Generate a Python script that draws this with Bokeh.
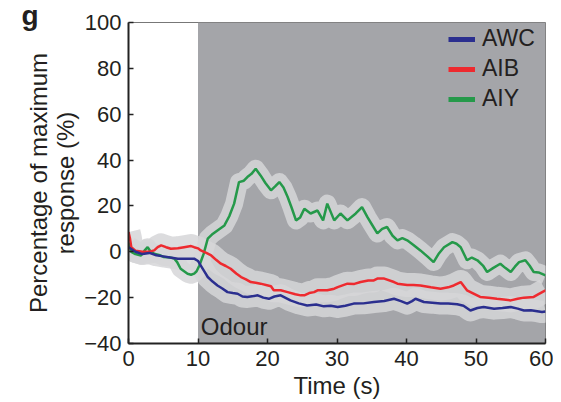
from bokeh.plotting import figure
from bokeh.models import Range1d, BoxAnnotation, Label, Legend, LegendItem, FixedTicker
from bokeh.embed import file_html
from bokeh.resources import INLINE

# ---------------- data ----------------
odour_start = 10
odour_end = 60

awc_t = [0, 1, 2, 3, 4, 5, 6, 7.1, 8, 9,
         9.45, 10.0, 10.4, 11.0, 11.4, 12.1, 12.8, 13.5, 14.25, 15.0,
         15.7, 16.4, 17.1, 18.0, 18.6, 19.4, 20.2, 21.0, 21.9, 23.3,
         24.5, 25.7, 27.0, 28.1, 29.1, 30.1, 31.2, 32.4, 33.8, 35.3,
         36.8, 38.2, 39.2, 40.1, 40.8, 41.3, 42.5, 43.7, 44.9, 46.0,
         47.3, 48.2, 49.2, 50.2, 51.1, 52.6, 53.8, 55.0, 56.0, 56.9,
         57.9, 58.8, 59.5, 60]
awc_v = [2, 0, -1, -0.5, -1.5, -2, -2.5, -3, -3, -3,
         -3, -4, -6, -9, -11, -13, -14.7, -16, -17.6, -18,
         -18.3, -19.5, -19.7, -19.3, -19, -20, -20.5, -19.5, -19, -21.2,
         -22.5, -23.4, -23, -23.8, -23.5, -24.1, -23.5, -22.6, -22.5, -21.9,
         -21.5, -20.5, -21.5, -22.6, -21.5, -20.5, -21.9, -22.2, -22.6, -22.6,
         -22.9, -23.5, -25.6, -24.5, -24.1, -24.8, -24.5, -24.1, -24.8, -25.6,
         -25.5, -25.9, -26.3, -26]

aib_t = [0, 0.2, 0.4, 1.0, 2.0, 3.0, 3.7, 4.2, 4.7, 5.4,
         6.1, 7.1, 8.0, 9.0, 9.45, 10.0, 10.4, 11.2, 11.9, 12.6,
         13.3, 14.0, 14.7, 15.5, 16.2, 16.9, 17.6, 18.3, 19.0, 20.5,
         20.9, 21.9, 22.9, 24.0, 24.8, 25.3, 26.0, 26.7, 27.2, 28.6,
         29.6, 30.1, 31.5, 32.5, 33.4, 34.5, 35.3, 35.8, 36.8, 38.2,
         38.7, 40.1, 41.0, 42.0, 43.5, 44.9, 46.0, 46.8, 47.8, 48.7,
         49.5, 50.6, 51.8, 53.0, 54.0, 55.0, 56.0, 56.9, 58.3, 59.0,
         60.0]
aib_v = [8.6, 6, 2, 0.5, 0, 0, 0.6, 2, 2.8, 2,
         1.3, 1.5, 2, 2.5, 2, 1.5, 0.6, -0.5, -1.6, -3.5,
         -5.2, -6.2, -7.4, -9.5, -11, -12, -13.2, -13.5, -13.9, -15,
         -16.8, -16.8, -17.6, -18.5, -19, -19, -18, -17.6, -16.8, -16.8,
         -16.1, -15.4, -13.9, -14, -13.2, -12.5, -12.5, -11.7, -11.7, -13.2,
         -13.9, -14.5, -14.5, -14.7, -15.5, -16.1, -15.5, -14.7, -13.2, -16.8,
         -18, -19.7, -20, -20.5, -20.8, -21.2, -20.5, -20, -19.7, -18.5,
         -16.8]

aiy_t = [0, 0.4, 1.0, 1.8, 2.3, 2.75, 3.2, 3.7, 4.5, 5.1,
         6.0, 6.6, 7.0, 7.5, 8.0, 8.5, 9.0, 9.45, 9.8, 10.2,
         10.8, 11.4, 12.0, 12.8, 13.8, 14.5, 15.2, 15.9, 16.6, 17.1,
         17.7, 18.3, 19.0, 19.7, 20.5, 21.1, 21.7, 22.3, 22.9, 23.5,
         24.1, 24.7, 25.3, 26.2, 27.2, 28.0, 28.6, 29.6, 30.5, 31.5,
         32.7, 33.6, 34.4, 35.0, 35.8, 36.5, 37.2, 38.0, 38.7, 39.4,
         40.1, 41.0, 42.0, 43.0, 43.9, 44.6, 45.4, 46.6, 47.2, 47.8,
         48.7, 49.4, 50.2, 51.0, 51.6, 52.5, 53.5, 54.2, 55.0, 55.6,
         56.2, 57.1, 57.7, 58.3, 59.0, 60.0]
aiy_v = [4, 0, -1, -1.6, 0.5, 2, 0, -0.8, -1.5, -2.3,
         -2.5, -3, -4.5, -7.4, -8.5, -9.6, -10, -9.5, -8.5, -6,
         -1, 5.7, 7.5, 9.3, 11.5, 15.5, 21, 30.4, 31, 32.6,
         34, 36.2, 33.3, 30, 26.8, 28.5, 30.4, 28, 23.9, 19,
         13.7, 15, 18.8, 16.7, 18, 13.7, 21, 13.7, 16.7, 13.7,
         16.7, 19.5, 15, 12, 8, 10, 10.8, 7, 5, 6,
         5, 3, 0.6, -2, -4.5, -1, 2, 4.2, 3.5, 2,
         -3.7, -2.5, -3.7, -6, -8.8, -7, -5.2, -7, -8.8, -6.5,
         -4.5, -3.7, -6, -8.8, -9, -10.3]

series_names = ["AWC", "AIB", "AIY"]
x_ticks = [0, 10, 20, 30, 40, 50, 60]
y_ticks = [-40, -20, 0, 20, 40, 60, 80, 100]

# ---------------- style ----------------
FONT = "Liberation Sans"
TXT = "#231f20"
colors = {"AWC": "#2b2f8f", "AIB": "#ee2a2f", "AIY": "#25994a"}
band_w = {"AWC": 22, "AIB": 24, "AIY": 18}

p = figure(width=553, height=402, output_backend="svg", toolbar_location=None,
           x_range=Range1d(0, 60), y_range=Range1d(-40, 100),
           min_border_left=128, min_border_right=8, min_border_top=22, min_border_bottom=59)
p.background_fill_color = "white"
p.border_fill_color = "white"
p.outline_line_color = "#777777"
p.outline_line_width = 1
p.xgrid.visible = False
p.ygrid.visible = False

# panel letter as a left-aligned title, pulled down so it overlaps the frame top
p.title.text = "g"
p.title.align = "left"
p.title.vertical_align = "middle"
p.title.offset = -107
p.title.standoff = -19
p.title.text_font = FONT
p.title.text_font_size = "28px"
p.title.text_font_style = "bold"
p.title.text_color = TXT

p.add_layout(BoxAnnotation(left=odour_start, right=odour_end, fill_color="#a4a5a9",
                           fill_alpha=1, line_color=None, level="underlay"))

data = {"AWC": (awc_t, awc_v), "AIB": (aib_t, aib_v), "AIY": (aiy_t, aiy_v)}
for name in ["AIY", "AIB", "AWC"]:
    t, v = data[name]
    p.line(t, v, line_width=band_w[name], color="#d6d6d8", alpha=0.85,
           line_join="round", line_cap="butt")
for name in ["AIY", "AIB", "AWC"]:
    t, v = data[name]
    p.line(t, v, line_width=2.5, color=colors[name])

items = []
for name in series_names:
    r = p.line([float("nan")], [float("nan")], line_width=5, color=colors[name])
    items.append(LegendItem(label=name, renderers=[r]))
leg = Legend(items=items, location=(320, 231), background_fill_alpha=0,
             border_line_color=None, margin=0, padding=0, spacing=3,
             glyph_width=27, glyph_height=24, label_height=24, label_standoff=7,
             label_text_font=FONT, label_text_font_size="23px", label_text_color=TXT)
p.add_layout(leg)

for ax in (p.xaxis[0], p.yaxis[0]):
    ax.axis_line_color = "#222222"
    ax.axis_line_width = 2
    ax.major_tick_in = 5
    ax.major_tick_out = 0
    ax.major_tick_line_color = "#222222"
    ax.major_tick_line_width = 1.5
    ax.minor_tick_line_color = None
    ax.major_label_text_font = FONT
    ax.major_label_text_font_size = "22px"
    ax.major_label_text_color = TXT
    ax.axis_label_text_font = FONT
    ax.axis_label_text_font_size = "24px"
    ax.axis_label_text_font_style = "normal"
    ax.axis_label_text_color = TXT

p.yaxis.axis_label_text_line_height = 1.0
p.xaxis.ticker = FixedTicker(ticks=x_ticks)
p.yaxis.ticker = FixedTicker(ticks=y_ticks)
p.xaxis.major_label_overrides = {t: str(t) for t in x_ticks}
p.yaxis.major_label_overrides = {t: ("\u2212" + str(-t) if t < 0 else str(t)) for t in y_ticks}
p.xaxis.major_label_standoff = 7
p.yaxis.major_label_standoff = 7
p.xaxis.axis_label = "Time (s)"
p.yaxis.axis_label = "Percentage of maximum\nresponse (%)"
p.xaxis.axis_label_standoff = 3
p.yaxis.axis_label_standoff = 2

p.add_layout(Label(x=10.4, y=-26.7, text="Odour", text_font=FONT,
                   text_font_size="24px", text_color=TXT, text_baseline="top"))

open("out.html", "w").write(file_html(p, INLINE))
